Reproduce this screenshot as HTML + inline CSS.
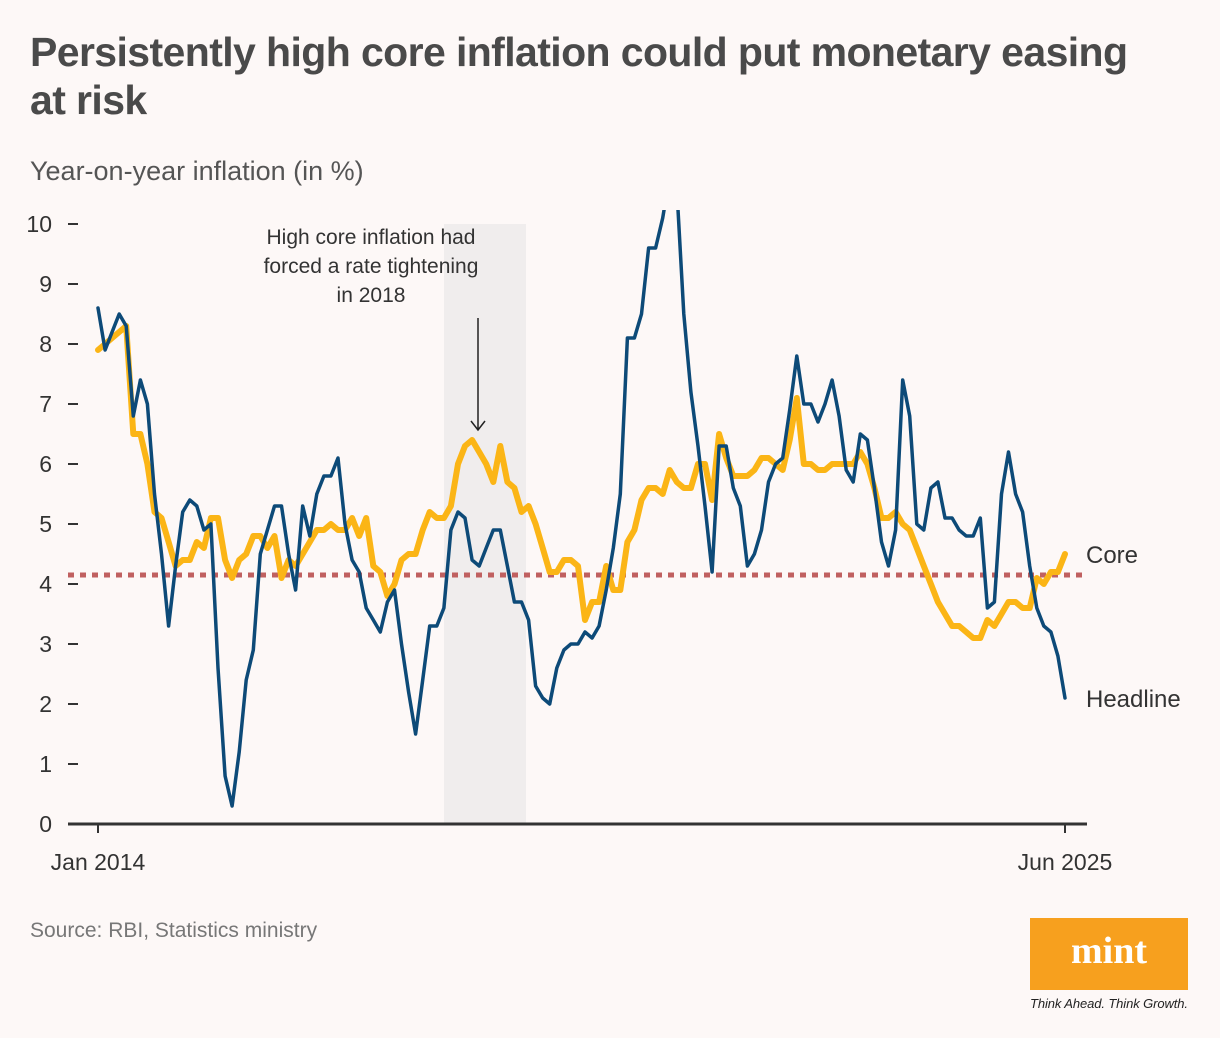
<!DOCTYPE html>
<html><head><meta charset="utf-8"><style>
body{margin:0;width:1220px;height:1038px;background:#fdf8f7;font-family:"Liberation Sans",sans-serif;overflow:hidden;position:relative}
.t{position:absolute;left:30px;top:28px;font-size:41px;font-weight:bold;color:#4a4a4a;line-height:48px;letter-spacing:-0.6px;width:1135px}
</style></head><body>
<div class="t">Persistently high core inflation could put monetary easing at risk</div>
<svg width="1220" height="1038" style="position:absolute;left:0;top:0" id="c">
<text x="30" y="180" font-size="27" fill="#555">Year-on-year inflation (in %)</text>
<g id="plot"></g>
<text x="30" y="937" font-size="21" fill="#777">Source: RBI, Statistics ministry</text>
<rect x="1030" y="918" width="158" height="72" fill="#f7a01e"/>
<text x="1109" y="963" font-size="38" font-weight="bold" fill="#fff" text-anchor="middle" font-family="Liberation Serif,serif">mint</text>
<text x="1030" y="1008" font-size="13" font-style="italic" fill="#222" textLength="158">Think Ahead. Think Growth.</text>
</svg>
<script>
const yTicks=[0,1,2,3,4,5,6,7,8,9,10];
const xLabels=["Jan 2014","Jun 2025"];
const threshold=4.15;
const headline=[8.6,7.9,8.2,8.5,8.3,6.8,7.4,7.0,5.5,4.5,3.3,4.3,5.2,5.4,5.3,4.9,5.0,2.6,0.8,0.3,1.2,2.4,2.9,4.5,4.9,5.3,5.3,4.5,3.9,5.3,4.8,5.5,5.8,5.8,6.1,5.0,4.4,4.2,3.6,3.4,3.2,3.7,3.9,3.0,2.2,1.5,2.4,3.3,3.3,3.6,4.9,5.2,5.1,4.4,4.3,4.6,4.9,4.9,4.3,3.7,3.7,3.4,2.3,2.1,2.0,2.6,2.9,3.0,3.0,3.2,3.1,3.3,3.9,4.6,5.5,8.1,8.1,8.5,9.6,9.6,10.1,10.8,10.6,8.5,7.2,6.3,5.3,4.2,6.3,6.3,5.6,5.3,4.3,4.5,4.9,5.7,6.0,6.1,6.9,7.8,7.0,7.0,6.7,7.0,7.4,6.8,5.9,5.7,6.5,6.4,5.6,4.7,4.3,4.9,7.4,6.8,5.0,4.9,5.6,5.7,5.1,5.1,4.9,4.8,4.8,5.1,3.6,3.7,5.5,6.2,5.5,5.2,4.3,3.6,3.3,3.2,2.8,2.1];
const core=[7.9,8.0,8.1,8.2,8.3,6.5,6.5,6.0,5.2,5.1,4.7,4.3,4.4,4.4,4.7,4.6,5.1,5.1,4.4,4.1,4.4,4.5,4.8,4.8,4.6,4.8,4.1,4.4,4.3,4.5,4.7,4.9,4.9,5.0,4.9,4.9,5.1,4.8,5.1,4.3,4.2,3.8,4.0,4.4,4.5,4.5,4.9,5.2,5.1,5.1,5.3,6.0,6.3,6.4,6.2,6.0,5.7,6.3,5.7,5.6,5.2,5.3,5.0,4.6,4.2,4.2,4.4,4.4,4.3,3.4,3.7,3.7,4.3,3.9,3.9,4.7,4.9,5.4,5.6,5.6,5.5,5.9,5.7,5.6,5.6,6.0,6.0,5.4,6.5,6.1,5.8,5.8,5.8,5.9,6.1,6.1,6.0,5.9,6.4,7.1,6.0,6.0,5.9,5.9,6.0,6.0,6.0,6.0,6.2,6.0,5.6,5.1,5.1,5.2,5.0,4.9,4.6,4.3,4.0,3.7,3.5,3.3,3.3,3.2,3.1,3.1,3.4,3.3,3.5,3.7,3.7,3.6,3.6,4.1,4.0,4.2,4.2,4.5];
const NS="http://www.w3.org/2000/svg";
const g=document.getElementById('plot');
const X0=98,X1=1065,Y0=824,Y10=224;
const xs=(i,n)=>X0+(X1-X0)*i/(n-1);
const ys=v=>Y0-(Y0-Y10)*v/10;
function mk(t,a){const e=document.createElementNS(NS,t);for(const k in a)e.setAttribute(k,a[k]);g.appendChild(e);return e;}
const clip=document.createElementNS(NS,'clipPath');clip.setAttribute('id','cp');
const cr=document.createElementNS(NS,'rect');cr.setAttribute('x',60);cr.setAttribute('y',210);cr.setAttribute('width',1100);cr.setAttribute('height',620);clip.appendChild(cr);g.appendChild(clip);
let e=mk('rect',{x:444,y:ys(10),width:82,height:Y0-ys(10),fill:'#f0eded'});


yTicks.forEach(v=>{
 let l=mk('line',{x1:68,x2:78,y1:ys(v),y2:ys(v),stroke:'#333','stroke-width':2});
 
 
 let t=mk('text',{x:52,y:ys(v)+8,'font-size':23,fill:'#333','text-anchor':'end'});t.textContent=v;
 
 
});
e=mk('line',{x1:68,x2:1087,y1:ys(threshold),y2:ys(threshold),stroke:'#c06060','stroke-width':5,'stroke-dasharray':'6 6'});


function path(arr,color,w,name){
 const d=arr.map((v,i)=>(i?'L':'M')+xs(i,arr.length).toFixed(1)+','+ys(v).toFixed(1)).join('');
 const p=mk('path',{d:d,fill:'none',stroke:color,'stroke-width':w,'stroke-linejoin':'round','stroke-linecap':'round','clip-path':'url(#cp)'});
 
 
}
path(core,'#fbb516',6,'core-line');
path(headline,'#0d4a78',3.5,'headline-line');
e=mk('line',{x1:68,x2:1087,y1:Y0,y2:Y0,stroke:'#333','stroke-width':3});


[0,1].forEach(k=>{
 const x=k?X1:X0;
 let l=mk('line',{x1:x,x2:x,y1:Y0,y2:833,stroke:'#333','stroke-width':2});
 
 
 let t=mk('text',{x:x,y:870,'font-size':23,fill:'#333','text-anchor':'middle'});t.textContent=xLabels[k];
 
 
});
["High core inflation had","forced a rate tightening","in 2018"].forEach((s,i)=>{
 let t=mk('text',{x:371,y:244+i*29,'font-size':21,fill:'#333','text-anchor':'middle'});t.textContent=s;
 
 
});
e=mk('path',{d:'M478,318V430M471,421L478,430L485,421',fill:'none',stroke:'#222','stroke-width':1.5});


e=mk('text',{x:1086,y:563,'font-size':24,fill:'#333'});e.textContent='Core';


e=mk('text',{x:1086,y:707,'font-size':24,fill:'#333'});e.textContent='Headline';


</script>
</body></html>
